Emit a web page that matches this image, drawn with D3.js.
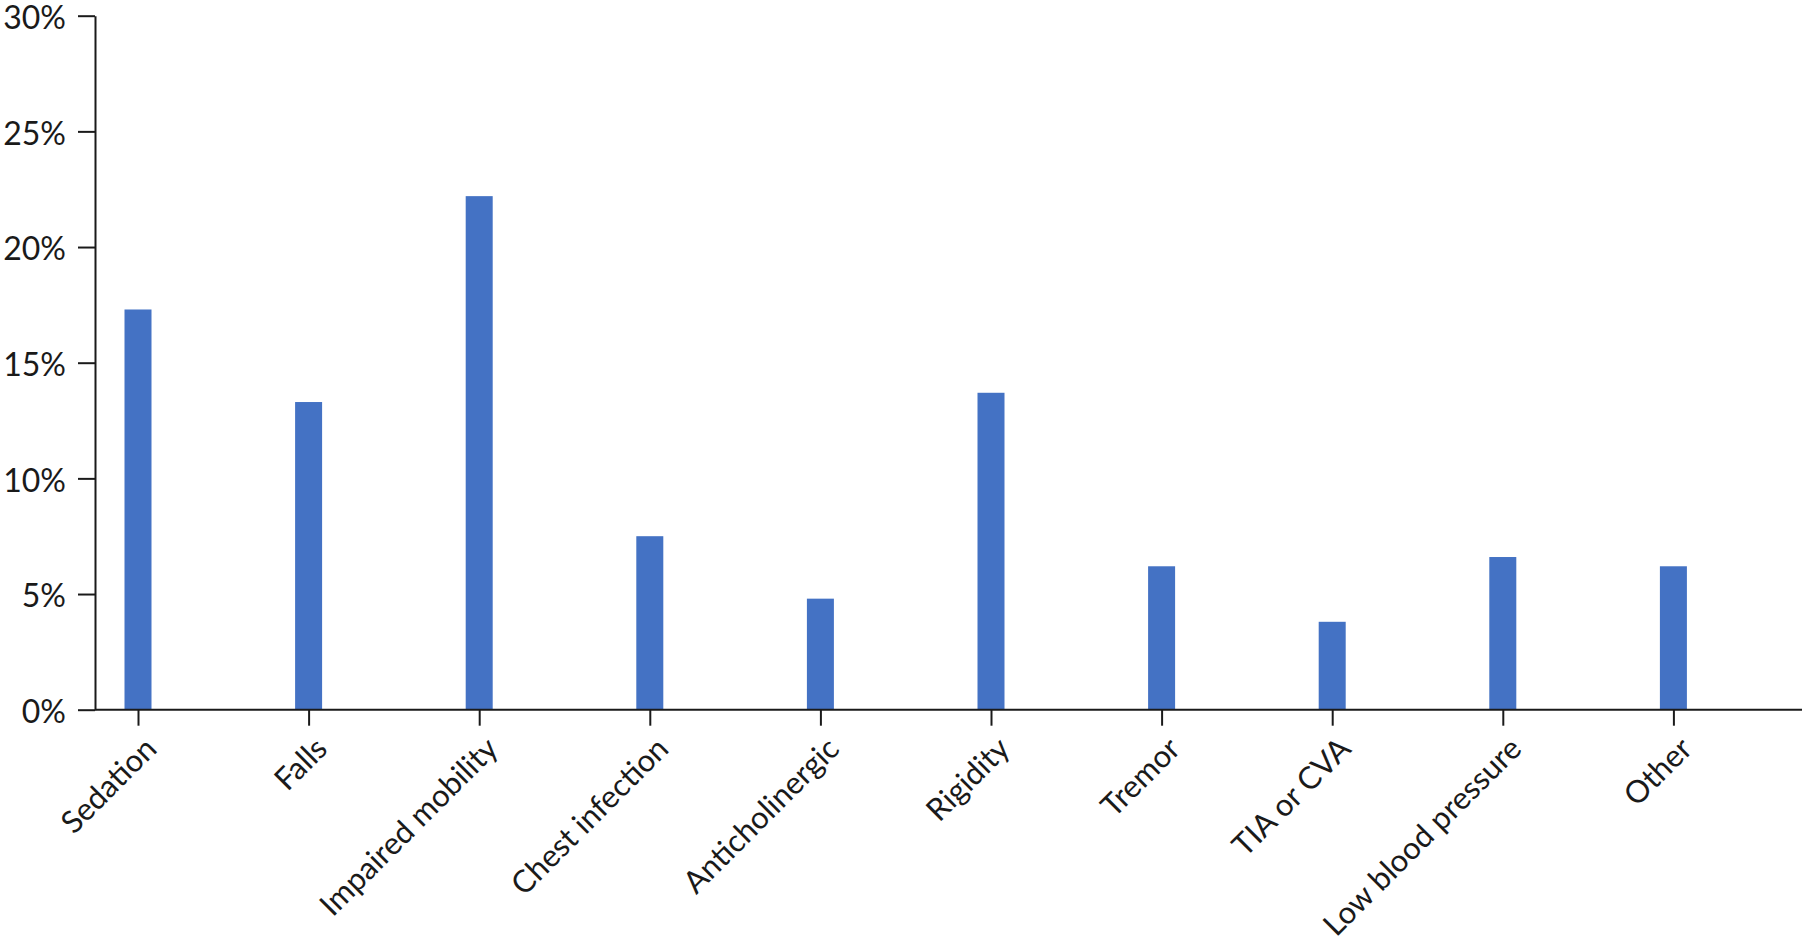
<!DOCTYPE html>
<html>
<head>
<meta charset="utf-8">
<script src="https://cdn.jsdelivr.net/npm/d3@7"></script>
<style>
  body { margin: 0; background: #fff; }
  svg { display: block; }
</style>
</head>
<body>
<svg id="chart" width="1802" height="944"></svg>
<script>
// data
const categories = ["Sedation", "Falls", "Impaired mobility", "Chest infection", "Anticholinergic",
                    "Rigidity", "Tremor", "TIA or CVA", "Low blood pressure", "Other"];
const values = [17.3, 13.3, 22.2, 7.5, 4.8, 13.7, 6.2, 3.8, 6.6, 6.2];
const yTicks = [0, 5, 10, 15, 20, 25, 30];

var width = 1802, height = 944;
var axisX = 95, plotTop = 15.7, base = 709.7;
var firstX = 138, lastX = 1673.4;
var barW = 27;
var ink = "#1a1a1a";
var font = "Lato, 'Open Sans', sans-serif";

var svg = d3.select("#chart");

var x = d3.scalePoint().domain(categories).range([firstX, lastX]);
var y = d3.scaleLinear().domain([0, 30]).range([base, plotTop]);

// bars
svg.append("g").attr("class", "bars")
    .selectAll("rect")
    .data(values)
    .enter().append("rect")
    .attr("x", function(d, i) { return x(categories[i]) - barW / 2; })
    .attr("y", function(d) { return y(d); })
    .attr("width", barW)
    .attr("height", function(d) { return y(0) - y(d); })
    .attr("fill", "#4472C4");

// y axis
var yAxis = svg.append("g")
    .attr("transform", "translate(" + axisX + ",0)")
    .call(d3.axisLeft(y).tickValues(yTicks)
          .tickFormat(function(d) { return d + "%"; })
          .tickSize(17).tickSizeOuter(0).tickPadding(12));
yAxis.selectAll("path, line").attr("stroke", ink).attr("stroke-width", 2);
yAxis.selectAll("text")
    .attr("fill", ink)
    .style("font-family", font)
    .style("font-size", "32px")
    .attr("dy", "0.4em");

// x axis
var xAxis = svg.append("g")
    .attr("transform", "translate(0," + base + ")")
    .call(d3.axisBottom(x).tickSize(16).tickSizeOuter(0));
xAxis.select(".domain").remove();
xAxis.append("line")
    .attr("x1", axisX).attr("x2", width)
    .attr("stroke", ink).attr("stroke-width", 2);
xAxis.selectAll(".tick line").attr("stroke", ink).attr("stroke-width", 2);
xAxis.selectAll(".tick text")
    .attr("fill", ink)
    .style("font-family", font)
    .style("font-size", "31px")
    .attr("text-anchor", "end")
    .attr("x", 0).attr("y", 0).attr("dy", 0)
    .attr("transform", "translate(20,41) rotate(-45)");
</script>
</body>
</html>
